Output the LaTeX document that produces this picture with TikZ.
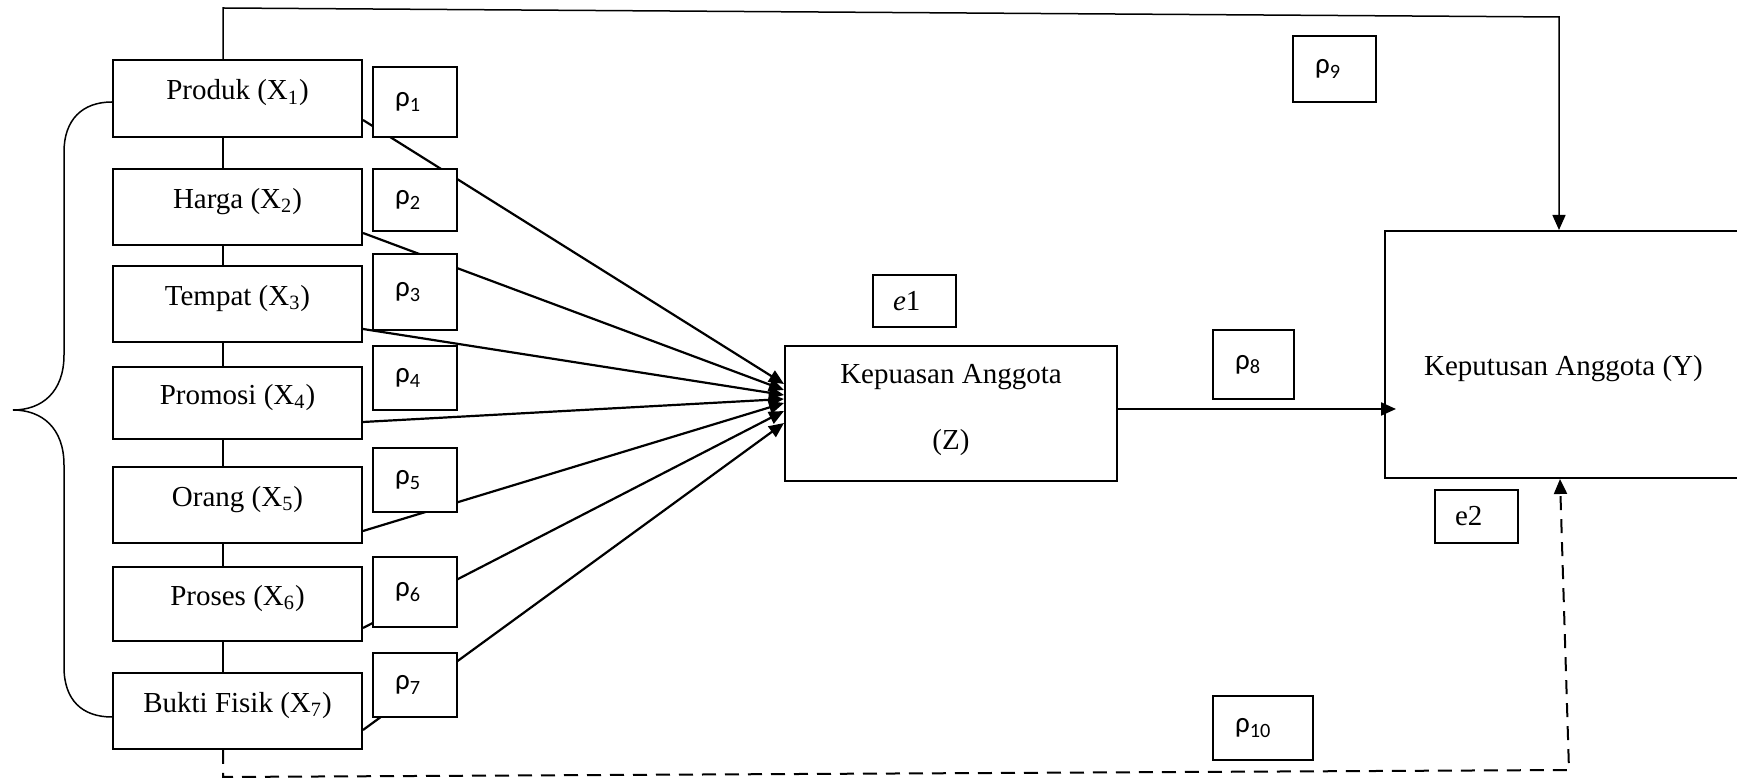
\documentclass[tikz,border=0pt]{standalone}
\usepackage{fontspec}
\setmainfont{Liberation Serif}
\newfontfamily\rhofont{Carlito}
\usetikzlibrary{arrows.meta,calc}
\begin{document}
\begin{tikzpicture}[x=0.5pt,y=-0.5pt,
  box/.style={draw,line width=1pt,fill=white,inner sep=0pt},
  lbox/.style={box,minimum width=124.5pt,font=\fontsize{14.5}{17}\selectfont,text height=11pt,text depth=9.8pt},
  rbox/.style={box,font=\rhofont\fontsize{14.5}{17}\selectfont,align=left,inner xsep=11pt,inner ysep=0pt},
  tbox/.style={box,font=\fontsize{14.5}{17}\selectfont},
  ebox/.style={box,font=\fontsize{14.5}{17}\selectfont,align=left,inner xsep=10pt,inner ysep=0pt,text width=21.5pt},
  arr/.style={line width=1.1pt,-{Triangle[length=7.5pt,width=6.5pt]}},
  thinline/.style={line width=0.75pt},
  dashline/.style={line width=1pt,dash pattern=on 7pt off 4.5pt,-{Triangle[length=7.5pt,width=6.5pt]}}]
\useasboundingbox (0,0) rectangle (1737,779);
\clip (0,0) rectangle (1737,779);

% left boxes
\node[lbox,minimum height=38.5pt] (b1) at (237.5,98.5) {Produk (X\textsubscript{1})};
\node[lbox,minimum height=38pt] (b2) at (237.5,207) {Harga (X\textsubscript{2})};
\node[lbox,minimum height=38pt] (b3) at (237.5,304) {Tempat (X\textsubscript{3})};
\node[lbox,minimum height=36pt] (b4) at (237.5,403) {Promosi (X\textsubscript{4})};
\node[lbox,minimum height=38pt] (b5) at (237.5,505) {Orang (X\textsubscript{5})};
\node[lbox,minimum height=37pt] (b6) at (237.5,604) {Proses (X\textsubscript{6})};
\node[lbox,minimum height=38pt] (b7) at (237.5,711) {Bukti Fisik (X\textsubscript{7})};

% Z and Y
\node[tbox,minimum width=166pt,minimum height=67.5pt,align=center] (Z) at (951,413.5)
  {Kepuasan Anggota\\[16pt](Z)\rule[-6.9pt]{0pt}{0pt}};
\node[tbox,minimum width=178.5pt,minimum height=123.5pt,text height=25pt,text depth=3.7pt] (Y) at (1563.5,354.5)
  {Keputusan Anggota (Y)};

% coordinates for free ends
\coordinate (t0) at (223,8);
\coordinate (t1) at (1559,17);
\coordinate (d0) at (223,777);
\coordinate (d1) at (1569,770);

% vertical connectors between left boxes
\foreach \a/\b in {b1/b2,b2/b3,b3/b4,b4/b5,b5/b6,b6/b7}
  \draw[thinline] (\a.south -| t0) -- (\b.north -| t0);

% top line to Y
\draw[thinline,-{Triangle[length=7.5pt,width=6.5pt]}] (b1.north -| t0) -- (t0) -- (t1) -- (t1 |- Y.north);

% dashed line to Y
\draw[dashline] (b7.south -| d0) -- (d0) -- (d1) -- ([xshift=-1.75pt]Y.south);

% brace
\draw[thinline] ($(b1.west)+(0,3.5)$) .. controls (82,102) and (64,120) .. (64,152) -- (64,355)
  .. controls (64,392) and (42,410) .. (13,410)
  .. controls (42,410) and (64,428) .. (64,465) -- (64,667)
  .. controls (64,700) and (82,717) .. ($(b7.west)+(0,6)$);

% arrows into Z
\draw[arr] ($(b1.south east)+(0,-18)$) -- ($(Z.north west)+(0,39)$);
\draw[arr] ($(b2.south east)+(0,-13)$) -- ($(Z.north west)+(0,45)$);
\draw[arr] ($(b3.south east)+(0,-14)$) -- ($(Z.north west)+(0,50)$);
\draw[arr] ($(b4.south east)+(0,-18)$) -- ($(Z.north west)+(0,54)$);
\draw[arr] ($(b5.south east)+(0,-13)$) -- ($(Z.north west)+(0,58)$);
\draw[arr] ($(b6.south east)+(0,-14)$) -- ($(Z.north west)+(0,66)$);
\draw[arr] ($(b7.south east)+(0,-20)$) -- ($(Z.north west)+(0,78)$);

% Z to Y
\draw[arr] ($(Z.north east)+(0,64)$) -- ($(Y.north west)+(12,179)$);

% rho boxes
\node[rbox,text width=20pt,minimum height=35pt] (r1) at (415,102) {ρ\textsubscript{1}};
\node[rbox,text width=20pt,minimum height=31pt] (r2) at (415,200) {ρ\textsubscript{2}};
\node[rbox,text width=20pt,minimum height=38pt] (r3) at (415,292) {ρ\textsubscript{3}};
\node[rbox,text width=20pt,minimum height=32pt] (r4) at (415,378) {ρ\textsubscript{4}};
\node[rbox,text width=20pt,minimum height=32pt] (r5) at (415,480) {ρ\textsubscript{5}};
\node[rbox,text width=20pt,minimum height=35pt] (r6) at (415,592) {ρ\textsubscript{6}};
\node[rbox,text width=20pt,minimum height=32pt] (r7) at (415,685) {ρ\textsubscript{7}};
\node[rbox,text width=18.5pt,minimum height=34.5pt] (r8) at (1253.5,364.5) {ρ\textsubscript{8}};
\node[rbox,text width=19.5pt,minimum height=33pt] (r9) at (1334.5,69) {ρ\textsubscript{9}};
\node[rbox,text width=28pt,minimum height=32pt] (r10) at (1263,728) {ρ\textsubscript{10}};

% error boxes
\node[ebox,minimum height=26pt] (e1) at (914.5,301) {\textit{e}1};
\node[ebox,minimum height=26.5pt] (e2) at (1476.5,516.5) {e2};
\end{tikzpicture}
\end{document}
